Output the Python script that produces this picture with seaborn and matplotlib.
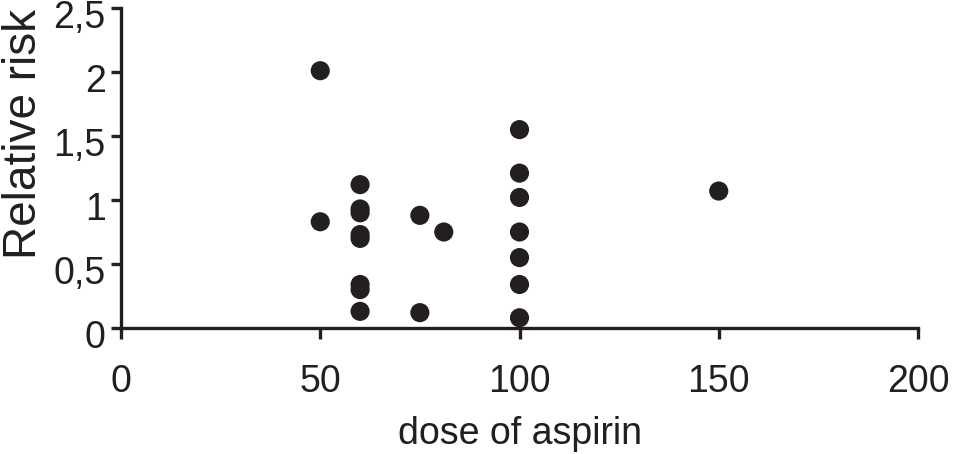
import matplotlib
matplotlib.use("Agg")
import matplotlib.pyplot as plt
from matplotlib.transforms import ScaledTranslation
import seaborn as sns
import pandas as pd

dose = [50, 50,
        60, 60, 60, 60, 60, 60, 60, 60,
        75, 75, 81,
        100, 100, 100, 100, 100, 100, 100,
        150]
relative_risk = [2.01, 0.83,
                 1.12, 0.93, 0.90, 0.73, 0.70, 0.34, 0.30, 0.13,
                 0.88, 0.12, 0.75,
                 1.55, 1.21, 1.02, 0.75, 0.55, 0.34, 0.08,
                 1.07]
x_ticks = [0, 50, 100, 150, 200]
y_ticks = [0, 0.5, 1, 1.5, 2, 2.5]
y_tick_labels = ["0", "0,5", "1", "1,5", "2", "2,5"]

df = pd.DataFrame({"dose": dose, "rr": relative_risk})

sns.set_style("ticks")
plt.rcParams["font.family"] = ["Liberation Sans", "DejaVu Sans"]

ink = "#231f20"
fig = plt.figure(figsize=(9.58, 4.54), dpi=100)
ax = fig.add_axes([121/958, 1 - 328/454, 797/958, 320/454])

sns.scatterplot(data=df, x="dose", y="rr", ax=ax, s=190, color=ink,
                edgecolor="none", linewidth=0, clip_on=False, zorder=3)

ax.set_xlim(0, 200)
ax.set_ylim(0, 2.5)
ax.set_xticks(x_ticks)
ax.set_xticklabels([str(t) for t in x_ticks])
ax.set_yticks(y_ticks)
ax.set_yticklabels(y_tick_labels)

for side in ["top", "right"]:
    ax.spines[side].set_visible(False)
for side in ["left", "bottom"]:
    ax.spines[side].set_linewidth(2.4)
    ax.spines[side].set_color(ink)

ax.tick_params(axis="x", direction="out", length=8, width=2.4, colors=ink,
               labelsize=27, pad=18)
ax.tick_params(axis="y", direction="out", length=7, width=2.4, colors=ink,
               labelsize=27, pad=4)

shift = ScaledTranslation(0, -6/100, fig.dpi_scale_trans)
for lab in ax.get_yticklabels():
    lab.set_transform(lab.get_transform() + shift)

ax.set_xlabel("dose of aspirin", fontsize=27, color=ink)
ax.xaxis.set_label_coords(0.5, -(452 - 328) / 320)
ax.xaxis.label.set_verticalalignment("bottom")

ax.set_ylabel("Relative risk", fontsize=33, color=ink)
ax.yaxis.set_label_coords((46 - 121) / 797, (328 - 134) / 320)

fig.savefig("out.png", dpi=100)
